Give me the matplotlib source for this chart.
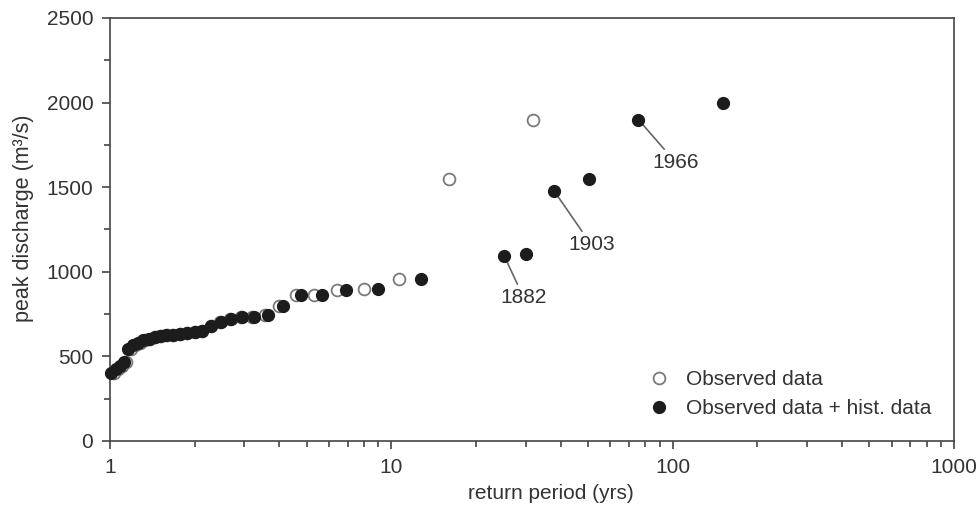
import numpy as np
import matplotlib.pyplot as plt
from matplotlib.ticker import FixedLocator, LogLocator, NullFormatter, FuncFormatter

plt.rcParams['font.family'] = ['Liberation Sans', 'DejaVu Sans']

# systematic record below the largest two floods (descending)
lower_Q = [960, 900, 890, 865, 860, 795, 745, 735, 735, 722, 705, 682, 650, 645,
           640, 632, 628, 625, 620, 612, 605, 597, 580, 565, 545, 465, 445, 425, 400]

obs_T = [32.0, 16.0, 10.67, 8.0, 6.4, 5.33, 4.57, 4.0, 3.56, 3.2, 2.91, 2.67, 2.46,
         2.29, 2.13, 2.0, 1.88, 1.78, 1.68, 1.6, 1.52, 1.45, 1.39, 1.33, 1.28, 1.23,
         1.19, 1.14, 1.10, 1.07, 1.03]
obs_Q = [1900, 1550] + lower_Q

hist_T = [151, 75.5, 50.3, 37.8, 30.2, 25.2,
          12.7, 9.0, 6.92, 5.69, 4.79, 4.13, 3.65, 3.26, 2.95, 2.70, 2.48, 2.29, 2.13,
          2.0, 1.87, 1.77, 1.67, 1.585, 1.51, 1.44, 1.37, 1.31, 1.26, 1.21, 1.16, 1.12,
          1.085, 1.05, 1.01]
hist_Q = [2000, 1900, 1550, 1480, 1105, 1093] + lower_Q

# labelled floods: (index in hist arrays, year, text offset in points)
labels = [(5, '1882', (14, -30)), (3, '1903', (27, -39)), (1, '1966', (27, -31))]

txt = '#333333'
fs = 15
fig = plt.figure(figsize=(9.79, 5.08), dpi=100)
ax = fig.add_axes([0.1124, 0.1319, 0.8621, 0.8327])

ax.plot(obs_T, obs_Q, 'o', ms=8.5, mfc='white', mec='#7a7a7a', mew=1.3,
        ls='none', label='Observed data', zorder=3, clip_on=False)
ax.plot(hist_T, hist_Q, 'o', ms=8.5, mfc='#1c1c1c', mec='#1c1c1c', mew=1,
        ls='none', label='Observed data + hist. data', zorder=4, clip_on=False)

for i, year, off in labels:
    ax.annotate(year, xy=(hist_T[i], hist_Q[i]), xytext=off, textcoords='offset points',
                ha='center', va='center', fontsize=fs, color=txt, zorder=2,
                arrowprops=dict(arrowstyle='-', color='#666666', lw=1.2,
                                shrinkA=1, shrinkB=0))

ax.set_xscale('log')
ax.set_xlim(1, 1000)
ax.set_ylim(0, 2500)
ax.xaxis.set_major_locator(FixedLocator([1, 10, 100, 1000]))
ax.xaxis.set_minor_locator(LogLocator(base=10, subs=np.arange(2, 10)))
ax.xaxis.set_major_formatter(FuncFormatter(lambda v, p: '%d' % v))
ax.xaxis.set_minor_formatter(NullFormatter())
ax.set_yticks(np.arange(0, 2501, 500))
ax.set_yticks(np.arange(250, 2500, 500), minor=True)

for s in ax.spines.values():
    s.set_color('#444444')
    s.set_linewidth(1.2)
ax.tick_params(which='both', direction='out', colors='#444444', labelcolor=txt,
               labelsize=fs, width=1.2)
ax.tick_params(which='major', length=6, pad=6)
ax.tick_params(which='minor', length=4)

ax.set_xlabel('return period (yrs)', fontsize=fs, color=txt, va='center')
ax.set_ylabel('peak discharge (m³/s)', fontsize=fs + 0.5, color=txt, va='center')
ax.xaxis.set_label_coords(0.522, -0.125)
ax.yaxis.set_label_coords(-0.103, 0.527)

ax.legend(loc='lower right', bbox_to_anchor=(0.983, 0.035), frameon=False,
          fontsize=fs, labelcolor=txt, handlelength=1.0, handletextpad=0.8,
          labelspacing=0.45, borderaxespad=0)

fig.savefig('out.png', dpi=100)
